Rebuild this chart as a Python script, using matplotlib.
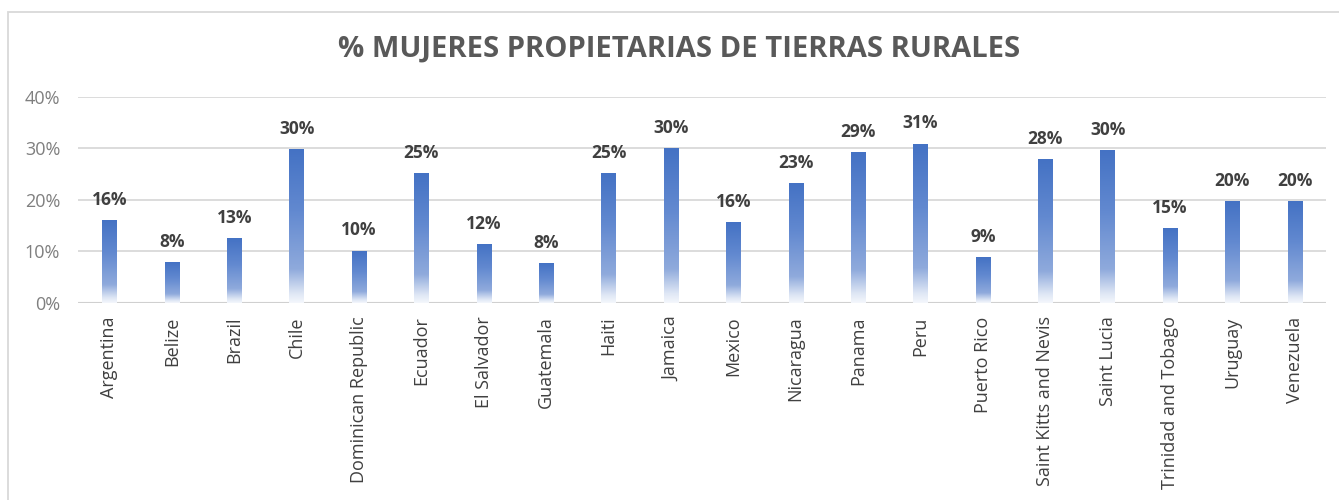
import numpy as np
import matplotlib
matplotlib.use("Agg")
import matplotlib.pyplot as plt
from matplotlib.colors import LinearSegmentedColormap
from matplotlib.patches import Rectangle

countries = ["Argentina", "Belize", "Brazil", "Chile", "Dominican Republic", "Ecuador",
             "El Salvador", "Guatemala", "Haiti", "Jamaica", "Mexico", "Nicaragua",
             "Panama", "Peru", "Puerto Rico", "Saint Kitts and Nevis", "Saint Lucia",
             "Trinidad and Tobago", "Uruguay", "Venezuela"]
values = [16.0, 7.9, 12.6, 29.8, 10.1, 25.2, 11.3, 7.6, 25.2, 30.1, 15.6, 23.3,
          29.3, 30.9, 8.8, 27.9, 29.6, 14.5, 19.7, 19.7]
labels = ["16%", "8%", "13%", "30%", "10%", "25%", "12%", "8%", "25%", "30%", "16%", "23%",
          "29%", "31%", "9%", "28%", "30%", "15%", "20%", "20%"]
yticks = [0, 10, 20, 30, 40]
ytick_labels = ["0%", "10%", "20%", "30%", "40%"]
title = "% MUJERES PROPIETARIAS DE TIERRAS RURALES"

plt.rcParams['font.family'] = ['Open Sans', 'DejaVu Sans']

W, H = 1339, 500
fig = plt.figure(figsize=(W / 100, H / 100), dpi=100)
fig.patch.set_facecolor("white")

# outer chart border
fig.add_artist(Rectangle((8 / W, -0.1), 1.2, (500 - 12) / H + 0.1, transform=fig.transFigure,
                         fill=False, edgecolor="#d9d9d9", linewidth=1.3))

left, right = 78.3 / W, 1326 / W
bottom, top = (H - 302.6) / H, (H - 97) / H
ax = fig.add_axes([left, bottom, right - left, top - bottom])

cmap = LinearSegmentedColormap.from_list(
    "grad", [(0.0, "#f4f7fc"), (0.06, "#dfe7f5"), (0.22, "#8faadc"), (0.6, "#6289d0"), (1.0, "#4472c4")])
grad = np.linspace(0, 1, 256).reshape(-1, 1)

bar_w = 0.23
x = np.arange(len(countries))
bars = ax.bar(x, values, width=bar_w, color="none", edgecolor="none", zorder=3)
for b in bars:
    x0, y0 = b.get_x(), b.get_y()
    w, h = b.get_width(), b.get_height()
    ax.imshow(grad, cmap=cmap, origin="lower", aspect="auto",
              extent=[x0, x0 + w, y0, y0 + h], zorder=3, interpolation="bilinear")

for xi, v, lab in zip(x, values, labels):
    ax.annotate(lab, (xi, v), xytext=(0, 11), textcoords="offset points",
                ha="center", va="baseline", fontsize=12.5, fontweight="bold", color="#404040")

ax.set_xlim(-0.5, len(countries) - 0.5)
ax.set_ylim(0, 40)
ax.set_yticks(yticks)
ax.set_yticklabels(ytick_labels, fontsize=13, color="#7f7f7f")
ax.set_xticks(x)
ax.set_xticklabels(countries, rotation=90, fontsize=13, color="#404040")
ax.tick_params(axis="y", length=0, pad=13)
ax.tick_params(axis="x", length=0, pad=10)
ax.grid(axis="y", color="#d9d9d9", linewidth=1.3, zorder=0)
ax.set_axisbelow(True)
for s in ax.spines.values():
    s.set_visible(False)
ax.axhline(0, color="#d0d0d0", linewidth=1.5, zorder=2)

fig.text(679 / W, (H - 49) / H, title, ha="center", va="center", fontsize=21,
         fontweight="bold", color="#595959")

fig.savefig("out.png", dpi=100, facecolor="white")
